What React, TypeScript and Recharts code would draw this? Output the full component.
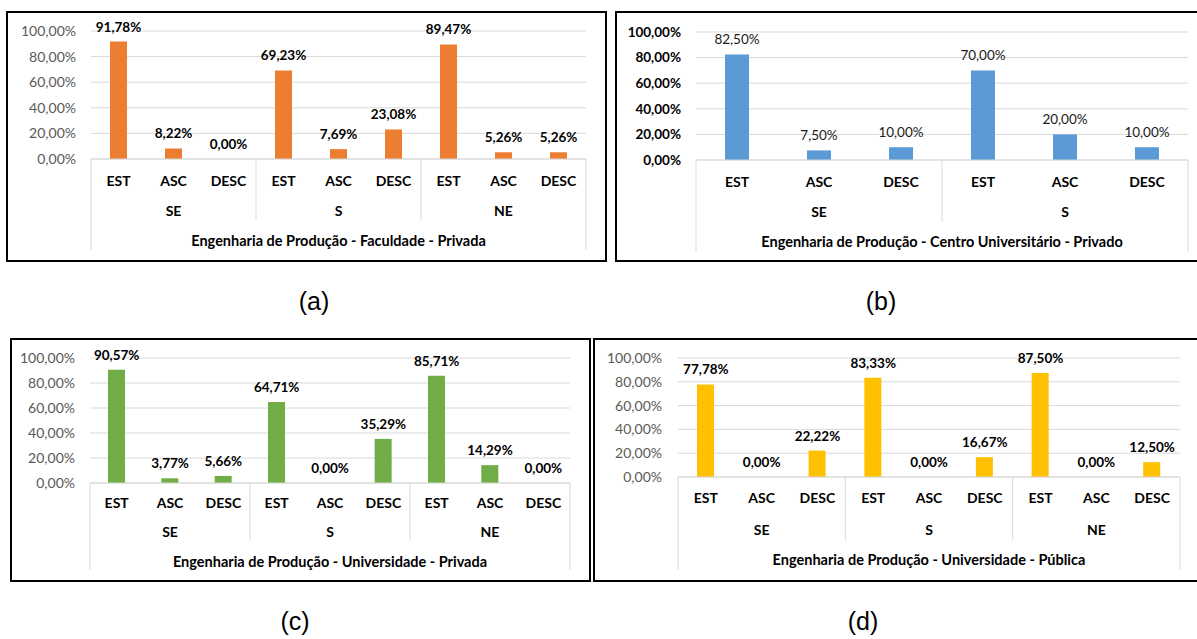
import React from "react";
import { ComposedChart, Bar, Line, XAxis, YAxis, CartesianGrid, LabelList } from "recharts";

const categories = ["EST", "ASC", "DESC"];
const regions3 = ["SE", "S", "NE"];
const regions2 = ["SE", "S"];

const valuesA = [91.78, 8.22, 0, 69.23, 7.69, 23.08, 89.47, 5.26, 5.26];
const valuesB = [82.5, 7.5, 10, 70, 20, 10];
const valuesC = [90.57, 3.77, 5.66, 64.71, 0, 35.29, 85.71, 14.29, 0];
const valuesD = [77.78, 0, 22.22, 83.33, 0, 16.67, 87.5, 0, 12.5];

const yTicks = [0, 20, 40, 60, 80, 100];

const titleA = "Engenharia de Produção - Faculdade - Privada";
const titleB = "Engenharia de Produção - Centro Universitário - Privado";
const titleC = "Engenharia de Produção - Universidade - Privada";
const titleD = "Engenharia de Produção - Universidade - Pública";

const FONT = "Lato, 'Open Sans', sans-serif";
const GRID = "#d9d9d9";

const buildRows = (regions: string[], values: number[]) =>
  regions.flatMap((r, ri) =>
    categories.map((c, ci) => ({
      key: `${r}-${c}`,
      cat: c,
      region: r,
      value: values[ri * categories.length + ci],
    }))
  );

const pct = (v: any) => Number(v).toFixed(2).replace(".", ",") + "%";

type Panel = {
  left: number;
  top: number;
  width: number;
  height: number;
  plotLeft: number;
  plotRight: number;
  plotTop: number;
  plotBottom: number;
  yGap: number;
  barSize: number;
  color: string;
  boldTicks: boolean;
  boldLabels: boolean;
  off: { cat: number; region: number; title: number; sep: number; outer: number };
};

function makeTick(rows: any[], title: string, band: number, off: Panel["off"]) {
  const n = rows.length;
  const mid = Math.floor((n - 1) / 2);
  return (props: any) => {
    const { x, y, payload } = props;
    const index = props.index ?? payload?.index ?? 0;
    const row = rows[index];
    if (!row) return <g />;
    const pos = index % categories.length;
    const half = band / 2;
    return (
      <g fontFamily={FONT} fontWeight="bold" fill="#000">
        <text x={x} y={y + off.cat} fontSize={14} textAnchor="middle" dominantBaseline="central">
          {row.cat}
        </text>
        {pos === 1 && (
          <text x={x} y={y + off.region} fontSize={14} textAnchor="middle" dominantBaseline="central">
            {row.region}
          </text>
        )}
        {index === 0 && (
          <line x1={x - half} x2={x - half} y1={y} y2={y + off.outer} stroke={GRID} />
        )}
        {pos === 0 && index > 0 && (
          <line x1={x - half} x2={x - half} y1={y} y2={y + off.sep} stroke={GRID} />
        )}
        {index === n - 1 && (
          <line x1={x + half} x2={x + half} y1={y} y2={y + off.outer} stroke={GRID} />
        )}
        {index === mid && (
          <text
            x={n % 2 === 1 ? x : x + half}
            y={y + off.title}
            fontSize={14.5}
            textAnchor="middle"
            dominantBaseline="central"
          >
            {title}
          </text>
        )}
      </g>
    );
  };
}

function PanelChart({ p, rows, title }: { p: Panel; rows: any[]; title: string }) {
  const plotW = p.plotRight - p.plotLeft;
  const band = plotW / rows.length;
  const below = p.height - p.plotBottom;
  return (
    <div style={{ position: "absolute", left: p.left, top: p.top, width: p.width, height: p.height }}>
      <ComposedChart
        width={p.width}
        height={p.height}
        data={rows}
        margin={{ top: p.plotTop, right: p.width - p.plotRight, left: 0, bottom: 2 }}
        barSize={p.barSize}
      >
        <CartesianGrid vertical={false} stroke={GRID} />
        <XAxis
          dataKey="key"
          interval={0}
          height={below - 2}
          tickSize={0}
          tickMargin={0}
          axisLine={{ stroke: GRID }}
          tickLine={false}
          tick={makeTick(rows, title, band, p.off)}
        />
        <YAxis
          width={p.plotLeft}
          domain={[0, 100]}
          ticks={yTicks}
          tickFormatter={pct}
          axisLine={false}
          tickLine={false}
          tickSize={0}
          tickMargin={p.yGap}
          tick={{
            fontFamily: FONT,
            fontSize: p.boldTicks ? 13.5 : 14,
            fill: p.boldTicks ? "#000" : "#595959",
            fontWeight: p.boldTicks ? "bold" : "normal",
          }}
        />
        <Bar dataKey="value" fill={p.color} isAnimationActive={false} />
        <Line
          dataKey="value"
          stroke="none"
          dot={false}
          activeDot={false}
          isAnimationActive={false}
        >
          <LabelList
            dataKey="value"
            position="top"
            offset={10}
            formatter={pct}
            style={{
              fontFamily: FONT,
              fontSize: 13.5,
              fontWeight: p.boldLabels ? "bold" : "normal",
              fill: p.boldLabels ? "#000" : "#1a1a1a",
            }}
          />
        </Line>
      </ComposedChart>
      <div
        style={{
          position: "absolute",
          left: 0,
          top: 0,
          width: p.width,
          height: p.height,
          border: "2px solid #000",
          boxSizing: "border-box",
          pointerEvents: "none",
        }}
      />
    </div>
  );
}

const panelA: Panel = {
  left: 6, top: 11, width: 601, height: 251,
  plotLeft: 85, plotRight: 580, plotTop: 20, plotBottom: 148,
  yGap: 15, barSize: 17, color: "#ED7D31", boldTicks: false, boldLabels: true,
  off: { cat: 21, region: 51, title: 81, sep: 61, outer: 91 },
};
const panelB: Panel = {
  left: 615, top: 11, width: 590, height: 251,
  plotLeft: 81, plotRight: 573, plotTop: 21, plotBottom: 149,
  yGap: 15, barSize: 24, color: "#5B9BD5", boldTicks: true, boldLabels: false,
  off: { cat: 21, region: 51, title: 81, sep: 62, outer: 92 },
};
const panelC: Panel = {
  left: 10, top: 338, width: 581, height: 244,
  plotLeft: 80, plotRight: 560, plotTop: 20, plotBottom: 145,
  yGap: 15, barSize: 17, color: "#70AD47", boldTicks: false, boldLabels: true,
  off: { cat: 19, region: 48, title: 78, sep: 57, outer: 87 },
};
const panelD: Panel = {
  left: 593, top: 338, width: 610, height: 244,
  plotLeft: 85, plotRight: 587, plotTop: 20, plotBottom: 139,
  yGap: 16, barSize: 17, color: "#FFC000", boldTicks: false, boldLabels: true,
  off: { cat: 20, region: 52, title: 82, sep: 63, outer: 93 },
};

const captions = [
  { text: "(a)", x: 314, y: 301 },
  { text: "(b)", x: 881, y: 301 },
  { text: "(c)", x: 295, y: 621 },
  { text: "(d)", x: 863, y: 621 },
];

export default function App() {
  return (
    <div
      style={{
        position: "absolute",
        left: 0,
        top: 0,
        width: 1197,
        height: 639,
        overflow: "hidden",
        background: "#fff",
      }}
    >
      <PanelChart p={panelA} rows={buildRows(regions3, valuesA)} title={titleA} />
      <PanelChart p={panelB} rows={buildRows(regions2, valuesB)} title={titleB} />
      <PanelChart p={panelC} rows={buildRows(regions3, valuesC)} title={titleC} />
      <PanelChart p={panelD} rows={buildRows(regions3, valuesD)} title={titleD} />
      {captions.map((c) => (
        <div
          key={c.text}
          style={{
            position: "absolute",
            left: c.x,
            top: c.y,
            transform: "translate(-50%, -50%)",
            fontFamily: "'Liberation Sans', Arial, sans-serif",
            fontSize: 25,
            lineHeight: 1,
            color: "#000",
          }}
        >
          {c.text}
        </div>
      ))}
    </div>
  );
}
